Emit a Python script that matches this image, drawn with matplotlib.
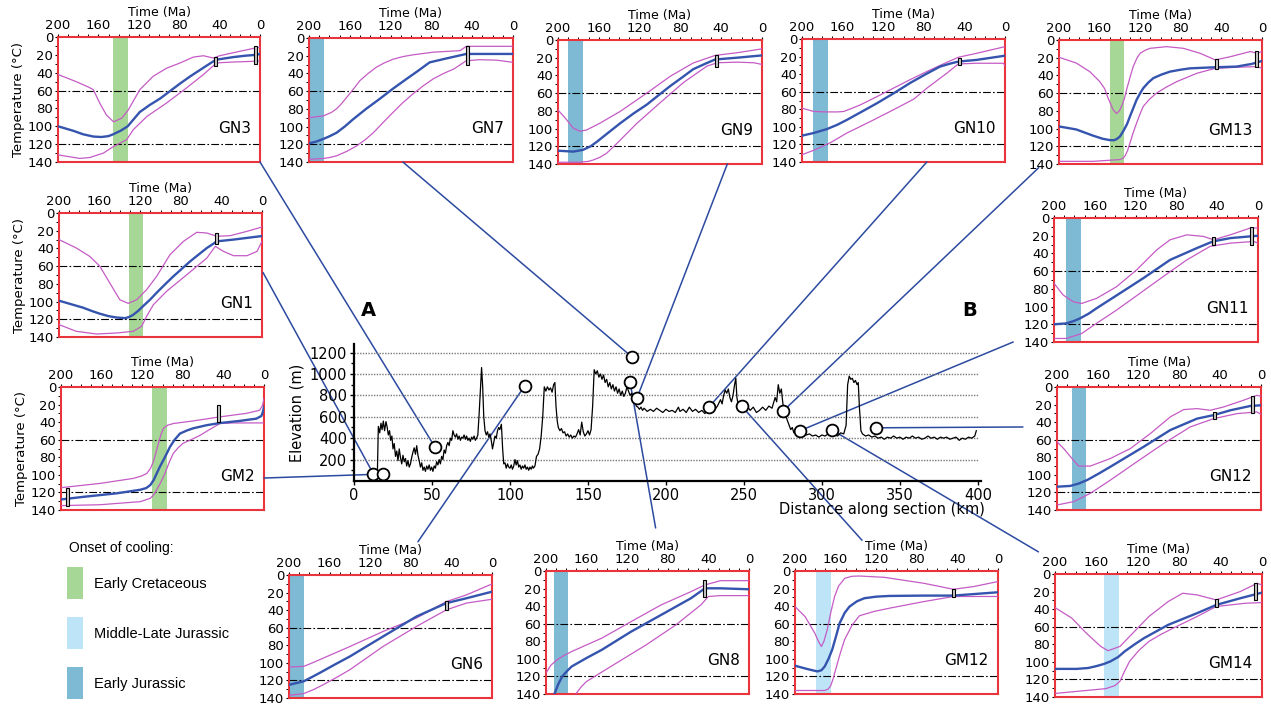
import matplotlib
matplotlib.use('Agg')
import matplotlib.pyplot as plt
from matplotlib.patches import Rectangle, ConnectionPatch

W, H = 1271, 704
fig = plt.figure(figsize=(W / 100, H / 100), dpi=100)

BLUE = '#3454AE'
MAG = '#C55BC5'
RED = '#E8343A'
LINK = '#2C4AA0'
GREEN = '#A6D796'
LIGHTB = '#BEE5F7'
DARKB = '#7FBAD5'

# ---------------- elevation profile: (km, m) ----------------
profile = [
    (12.5, 40), (14, 60), (15, 80), (15.6, 510), (16.5, 450), (17.3, 540), (18, 480), (18.8, 560), (19.6, 470),
    (20.5, 555), (21.3, 500), (22, 430), (22.8, 470), (23.5, 380), (24.3, 420), (25, 300), (25.8, 350),
    (26.6, 230), (27.4, 280), (28.2, 190), (29, 300), (29.8, 220), (30.6, 160), (31.4, 240), (32.2, 180),
    (33, 210), (33.8, 140), (34.6, 190), (35.4, 130), (36.2, 160), (37, 220), (37.8, 270), (38.6, 310),
    (39.4, 250), (40.2, 330), (41, 240), (41.8, 190), (42.6, 130), (43.4, 170), (44.2, 100), (45, 130),
    (45.8, 90), (46.6, 140), (47.4, 110), (48.2, 150), (49, 100), (49.8, 130), (50.6, 90), (51.4, 140),
    (52.2, 120), (53, 180), (53.8, 150), (54.6, 200), (55.4, 160), (56.2, 230), (57, 200), (57.8, 290),
    (58.6, 260), (59.4, 330), (60.2, 360), (61, 330), (61.8, 400), (62.6, 380), (63.4, 470), (64.2, 430),
    (65, 410), (65.8, 440), (66.6, 390), (67.4, 420), (68.2, 380), (69, 410), (69.8, 400), (70.6, 430),
    (71.4, 390), (72.2, 420), (73, 380), (73.8, 400), (74.6, 370), (75.4, 410), (76.2, 390), (77, 420),
    (77.8, 380), (78.6, 400), (79.4, 430), (80.2, 620), (81, 850), (81.8, 1060), (82.5, 880), (83.2, 600),
    (84, 470), (84.8, 430), (85.6, 460), (86.4, 410), (87.2, 440), (88, 380), (88.8, 300), (89.6, 360),
    (90.4, 420), (91.2, 400), (92, 470), (92.8, 500), (93.5, 480), (94.5, 530), (95.3, 300), (96, 160),
    (96.8, 170), (97.6, 120), (98.4, 160), (99.2, 130), (100, 120), (100.8, 150), (101.6, 110), (102.4, 140),
    (103.2, 200), (104, 150), (104.8, 190), (105.6, 130), (106.4, 150), (107.2, 110), (108, 140), (108.8, 120),
    (109.6, 150), (110.4, 110), (111.2, 130), (112, 100), (112.8, 130), (113.6, 110), (114.4, 140), (115, 120),
    (116, 140), (117, 230), (118, 250), (119, 300), (120, 420), (121, 600), (122, 880), (123, 840), (124, 880),
    (125, 850), (126, 870), (127, 830), (128, 900), (128.8, 920), (129.5, 700), (130.3, 560), (131, 500),
    (132, 470), (133, 490), (134, 450), (135, 460), (136, 420), (137, 440), (138, 410), (139, 430), (140, 400),
    (141, 420), (142, 410), (143, 440), (144, 480), (145, 430), (146, 550), (147, 460), (148, 420), (149, 440),
    (150, 470), (151, 430), (152, 480), (153, 700), (154, 1040), (155, 1000), (156, 1030), (157, 970),
    (158, 1000), (159, 950), (160, 990), (161, 920), (162, 950), (163, 880), (164, 920), (165, 860), (166, 900),
    (167, 840), (168, 880), (169, 820), (170, 860), (171, 800), (172, 840), (173, 790), (174, 820), (175, 880),
    (176, 840), (177, 800), (178, 820), (179, 760), (180, 740), (181, 700), (182, 690), (183, 670), (184, 690),
    (185, 660), (186, 680), (188, 650), (190, 670), (192, 650), (194, 680), (196, 660), (198, 640), (200, 670),
    (202, 650), (204, 660), (206, 640), (208, 690), (209, 650), (211, 670), (213, 640), (215, 690), (217, 650),
    (219, 670), (221, 640), (223, 660), (225, 630), (227, 670), (229, 690), (231, 660), (233, 700), (235, 760),
    (236, 720), (237, 800), (238, 850), (239, 820), (240, 860), (241, 780), (242, 740), (243, 800), (244, 900),
    (244.8, 960), (245.5, 780), (246.5, 700), (248, 720), (250, 680), (252, 700), (254, 660), (256, 690),
    (258, 640), (260, 660), (262, 690), (264, 660), (266, 700), (268, 680), (269, 730), (270, 780), (271, 740),
    (272, 900), (273, 820), (274, 860), (275, 720), (276, 650), (277, 600), (278, 560), (279, 520), (280, 480),
    (281, 500), (282, 450), (284, 470), (286, 440), (288, 450), (290, 430), (292, 440), (294, 420), (296, 430),
    (298, 410), (300, 430), (302, 420), (304, 440), (306, 430), (308, 440), (310, 420), (312, 450), (314, 440),
    (315.5, 520), (316.5, 900), (317.5, 980), (318.5, 950), (319.5, 960), (320.5, 920), (321.5, 940),
    (322.5, 900), (323.3, 920), (324, 700), (325, 470), (326, 440), (328, 420), (330, 430), (332, 410),
    (334, 420), (336, 400), (338, 410), (340, 390), (342, 410), (344, 400), (346, 420), (348, 400), (350, 410),
    (352, 390), (354, 410), (356, 400), (358, 420), (360, 400), (362, 410), (364, 390), (366, 400), (368, 420),
    (370, 400), (372, 410), (374, 390), (376, 410), (378, 400), (380, 410), (382, 390), (384, 400), (386, 410),
    (388, 380), (390, 400), (392, 390), (394, 410), (396, 400), (398, 420), (399, 470)]
prof_km = [p[0] for p in profile]
prof_m = [p[1] for p in profile]

sample_km = [12.5, 18.8, 52, 109.5, 178.3, 177, 181.5, 227.5, 248.5, 275.3, 285.8, 306.3, 334.8]
sample_m = [65, 65, 315, 890, 1158, 925, 778, 690, 700, 656, 469, 478, 497]
sample_panel = ['GN1', 'GM2', 'GN3', 'GN6', 'GN7', 'GN8', 'GN9', 'GN10', 'GM12', 'GM13', 'GN11', 'GM14', 'GN12']

# ---------------- thermal histories: (time Ma, temperature C) ----------------
GN3_best = [(200, 100), (185, 105), (175, 109), (165, 111.5), (157, 112), (150, 111), (145.5, 109), (138, 105),
            (131, 100), (125, 92), (119, 84), (109, 76), (99, 69), (89, 60.5), (79, 52), (69, 44), (59.5, 37),
            (50, 30), (43.6, 25.5), (35, 24), (26.4, 22.5), (15, 21), (4, 20), (0, 19)]
GN3_upper = [(200, 42), (182, 50), (170, 56), (165, 59), (158.7, 74), (152, 87.5), (145, 95), (137, 91),
             (130.6, 82), (119, 59), (105.8, 44), (92.6, 35), (79, 29), (66, 22.5), (56, 21), (46, 23.6),
             (40, 21), (20, 16), (5, 12.4), (0, 11.6)]
GN3_lower = [(200, 132), (178.5, 136), (168.6, 135), (155, 130), (145.5, 123), (132, 115), (125.6, 104),
             (112, 89), (92.6, 74), (72.7, 57), (56, 42), (43, 29), (26.4, 28), (0, 27)]
GN3_boxes = [(43.6, 22, 32), (4, 10, 30)]

GN7_best = [(200, 119), (193, 117), (186, 114), (180, 111), (173, 107), (165, 100), (157, 92), (144, 80),
            (131, 69), (118, 57.5), (104.6, 46.4), (93, 37), (81.7, 27.5), (65, 23), (45.8, 18), (0, 18)]
GN7_upper = [(200, 90), (186, 88), (178, 84), (173, 80), (168, 74), (163, 67), (156, 57), (150, 48), (142, 40),
             (134, 33), (126, 28), (117.6, 24), (108, 21), (98, 19), (78, 16), (52, 14.3), (45.8, 9.4),
             (33, 9.4), (0, 9.4)]
GN7_lower = [(200, 137), (186, 136), (180, 135), (173, 133), (163, 128), (153.6, 122), (145, 115), (137, 107),
             (127, 95), (117.6, 84), (108, 73), (98, 63), (88, 54), (78, 46), (68, 40), (58, 35), (45.8, 25.7),
             (33, 24.5), (16, 25), (0, 27.5)]
GN7_boxes = [(45, 9, 30)]

GN9_best = [(200, 125), (185, 126), (175.4, 124), (168, 120), (162, 115), (150, 104), (139, 94), (126, 83),
            (113, 73), (101, 62), (90, 52), (78, 42), (67.5, 33), (56, 27), (46, 22), (24.6, 20), (0, 17.4)]
GN9_upper = [(200, 79), (193, 88), (185, 99.5), (178.7, 103), (172, 101.6), (159, 94), (139, 80.6),
             (113, 60), (90, 41), (67.5, 26), (46, 17.4), (24.6, 14.4), (0, 10)]
GN9_lower = [(200, 138), (178.7, 138), (170, 137), (165.6, 135.5), (159, 132.5), (152.5, 128), (146, 121),
             (139, 113), (122.6, 94), (100, 71), (77, 48), (54, 29.5), (44, 25.7), (24.6, 25), (8, 25.7),
             (0, 27.6)]
GN9_boxes = [(45, 17, 30)]

GN10_best = [(200, 110), (188.5, 107), (175.4, 102.5), (165, 97.5), (155.7, 92), (140, 82), (126, 73),
             (110, 62), (93.4, 50), (78, 40), (64, 31.4), (54, 28), (46, 25.7), (28, 23.8), (0, 19)]
GN10_upper = [(200, 78.7), (188.5, 82.5), (175.4, 83), (165, 83), (159, 82.5), (151, 79), (142.6, 75),
              (126, 65.5), (110, 56), (93, 46), (77, 37), (62, 29), (46, 20.8), (28, 16.3), (0, 8.7)]
GN10_lower = [(200, 131.7), (187, 126), (172, 118), (155.7, 107), (132.8, 94), (110, 80.6), (90, 68.5),
              (77, 56), (57.4, 39), (46, 28.4), (28, 27.6), (1.6, 27.6), (0, 30.6)]
GN10_boxes = [(45, 22, 30)]

GM13_best = [(200, 97.6), (183, 101), (166.4, 108), (157, 111.5), (150, 113), (146, 113.2), (143.3, 112),
             (140, 109), (136.7, 103), (133, 95), (130, 86), (126.5, 76), (123.6, 67.6), (120, 60), (117, 54.4),
             (112, 48), (107, 43), (99, 39), (90.6, 35.7), (80, 33.5), (71, 32), (51, 31), (25, 30), (10, 27),
             (0, 23.6)]
GM13_upper = [(200, 19.5), (183, 26), (169.7, 35.7), (159.8, 47), (155, 55), (151.6, 65.7), (146.6, 79),
              (143.3, 83), (140.5, 80), (138.4, 75), (135.5, 66), (133.4, 56), (130, 42), (126.9, 30),
              (123, 20), (120, 15), (115, 11.5), (110.4, 9.4), (94, 7.5), (77.4, 9.4), (61, 15), (46, 22.5),
              (31, 18.8), (11.5, 13), (5, 15), (0, 13)]
GM13_lower = [(200, 137), (166.4, 137), (140, 135), (137, 133.5), (135, 131), (132.5, 125), (130, 116),
              (127, 105), (123.6, 94), (120, 83), (117, 75), (111, 67), (104, 60), (94, 53), (84, 47),
              (64, 37.5), (46, 32), (25, 30.8), (5, 30), (0, 32)]
GM13_boxes = [(45, 22, 33), (5, 12, 30)]

GN1_best = [(200, 99), (188, 103), (176, 107), (168, 110.5), (159.8, 113.7), (151, 116.5), (143.3, 118),
            (135, 118.7), (131, 117.5), (127, 115), (122, 110.5), (117, 105), (110, 97.5), (103.8, 90),
            (95, 80), (87.3, 71.5), (79, 63), (70.8, 54.6), (62, 46.5), (54.3, 39.5), (49, 35.5), (44.5, 32),
            (28, 30), (0, 26)]
GN1_upper = [(200, 30), (183, 39.5), (169.7, 49), (159.8, 60), (150, 79), (140, 98), (131.8, 102),
             (123.6, 98), (113.7, 86.6), (103.8, 71.5), (90.6, 47), (77.4, 32), (64.3, 21.8), (54.3, 22.6),
             (44.5, 26.3), (31.3, 25.6), (14.8, 20.7), (0, 15.8)]
GN1_lower = [(200, 126), (183, 133.6), (163, 136.6), (143.3, 135.5), (127, 133.6), (118.6, 128),
             (113.7, 116.7), (107, 103.5), (94, 88.4), (74, 69.6), (54.3, 50.8), (46, 37.6), (38, 43.3),
             (28, 48.2), (14.8, 48.2), (4.9, 43.3), (0, 32)]
GN1_boxes = [(45, 23, 35)]

GM2_best = [(200, 128), (177.7, 125), (145, 121), (122, 117), (116, 115), (112, 111.6), (108.5, 105.5),
            (105.7, 98.4), (102.5, 90.5), (99, 83), (95.5, 75), (92.6, 68), (88, 60), (82.8, 53), (76, 49.5),
            (69.7, 47), (56.6, 43.5), (43.5, 41), (23.9, 38.6), (7.5, 36), (2.6, 33), (1, 28), (0, 22.7)]
GM2_upper = [(200, 114.6), (161.4, 109.7), (128.6, 104), (120, 101), (115.5, 98.4), (112, 93), (109, 85),
             (106.5, 75), (104, 64), (101.5, 54), (99, 47), (95, 43.5), (89.4, 41.6), (69.7, 38.6), (43.5, 34),
             (17.3, 30), (4.3, 26.5), (1.5, 21), (0, 13.2)]
GM2_lower = [(200, 135), (161.4, 134), (122, 130.5), (112, 126.7), (108.5, 122.5), (105.7, 117),
             (101.5, 108), (97.6, 98.4), (93.5, 86), (89.4, 75.7), (84.5, 69), (79.6, 64), (71, 59.5), (63, 55),
             (53, 48), (43.5, 41.6), (30.4, 40.9), (0, 40.9)]
GM2_boxes = [(45, 20, 40), (194, 115, 136)]

GN11_best = [(200, 120), (188, 119), (181, 116.5), (174.8, 113.5), (166, 108), (158.4, 102), (135.4, 85),
             (112.5, 68), (86.2, 47.3), (60, 34), (44.3, 26.5), (27.2, 22.7), (0, 20)]
GN11_upper = [(200, 73.8), (191, 87), (181, 94.6), (173, 96.5), (158.4, 90.8), (138.7, 77.6), (119, 58.6),
              (99.3, 36), (86.2, 24.6), (69.8, 19), (53.4, 20.8), (43.6, 24.6), (27.2, 19), (7.5, 11.3),
              (0, 11.3)]
GN11_lower = [(200, 136), (188, 136), (173, 130.5), (158.4, 119), (138.7, 104), (115.7, 85), (92.8, 66),
              (69.8, 47.3), (46.9, 32), (27.2, 28.4), (4.3, 26.5), (0, 28.4)]
GN11_boxes = [(44, 22, 31), (6, 10, 30)]

GN12_best = [(200, 113.5), (187, 112.6), (179, 110), (170.6, 106), (159, 98.5), (147.7, 90.8), (115, 68),
             (88.9, 49), (62.7, 36), (46.4, 32), (30, 26.5), (10.5, 21.6), (0, 20.8)]
GN12_upper = [(200, 62.4), (193.5, 70), (185.3, 81.4), (178.8, 90), (167.3, 90), (147.7, 81.4), (128, 70),
              (108.5, 53), (88.9, 34), (75.8, 25.7), (62.7, 24.6), (49.7, 26.5), (36.6, 22.7), (17, 15),
              (4, 9.5), (0, 10.6)]
GN12_lower = [(200, 134.3), (183.7, 130.5), (167.3, 121), (147.7, 106), (121.6, 85), (95.4, 64.3),
              (69.3, 45.4), (46.4, 36), (23.5, 30.3), (4, 28.4), (0, 31)]
GN12_boxes = [(46, 28, 36), (8, 10, 30)]

GN6_best = [(200, 125), (185.5, 121), (178, 116.5), (170, 111.6), (155, 102), (140, 92.7), (107.4, 70),
            (74.5, 47.3), (45, 32), (25.3, 26.5), (0, 19)]
GN6_upper = [(200, 104.8), (185.5, 104), (178, 100.5), (170, 96.5), (140, 81.4), (107.4, 64.3), (74.5, 49),
             (45, 30.3), (25.3, 22.7), (0, 10.2)]
GN6_lower = [(200, 137), (185.5, 135), (176, 130.5), (166.5, 125), (153, 116.5), (140, 107.8),
             (107.4, 81.4), (74.5, 58.6), (45, 39.7), (25.3, 32), (0, 27.6)]
GN6_boxes = [(45, 30, 40)]

GN8_best = [(191.7, 140), (188, 129), (184, 120), (179, 113.5), (174.6, 108.6), (160, 99), (145, 89.7),
            (116, 68.9), (86.6, 50), (57.2, 31), (48, 23.5), (43.5, 19.7), (28, 19.7), (0, 20.8)]
GN8_upper = [(200, 116), (195, 107), (189, 101), (182, 96), (174.6, 91.6), (145, 76.4), (116, 57.5),
             (86.6, 38.6), (57.2, 23.5), (43.5, 15.9), (28, 11), (0, 11)]
GN8_lower = [(170.7, 140), (165, 131.5), (160, 125.7), (145, 115), (130.6, 104.8), (101.2, 84), (72, 61.3),
             (47.4, 38.6), (40, 29), (28, 28), (0, 28)]
GN8_boxes = [(44, 10, 30)]

GM12_best = [(200, 107.8), (187.8, 111.6), (178, 114.3), (174, 113), (170.7, 108.6), (167, 100), (163.4, 89.7),
             (159.5, 74), (156, 59.4), (151, 47.5), (146.3, 40.5), (139, 34.5), (131.7, 31), (120, 29.2),
             (107.3, 28.4), (73, 28), (43.9, 28), (0, 24.2)]
GM12_upper = [(200, 40.5), (190, 52), (180.5, 70.8), (176.5, 81), (174, 85.9), (171.5, 80), (168.3, 67),
              (164.5, 46), (161, 29), (157, 17), (151, 8.3), (144, 6), (136.6, 5.7), (112, 7.2), (73, 14),
              (43.9, 20.8), (24.4, 17.8), (0, 12)]
GM12_lower = [(200, 136), (170.7, 136), (167.5, 134.5), (165, 131), (162.5, 123), (160, 112.4), (155.5, 94),
              (151.2, 78.3), (144, 62), (136.6, 51), (122, 46), (107.3, 42.4), (73, 34.8), (43.9, 29),
              (19.5, 29), (0, 29)]
GM12_boxes = [(44, 20, 30)]

GM14_best = [(200, 108), (179, 108), (168, 107), (160.5, 105), (153, 102.5), (146.5, 99.5), (139, 94.5),
             (132.6, 88), (123, 80), (114, 73), (90.7, 57.9), (62.8, 44.6), (44.2, 35.2), (21, 27.6),
             (0, 21.2)]
GM14_upper = [(200, 38.2), (183.7, 50.3), (169.8, 67.3), (155.8, 82.4), (148.8, 87.3), (137.2, 82.4),
              (123.3, 65.5), (109.3, 48.4), (90.7, 31.4), (76.7, 21.9), (62.8, 23.8), (44.2, 29.5),
              (21, 20), (4.7, 10.6), (0, 12.5)]
GM14_lower = [(200, 136), (179, 133.6), (151, 130.5), (142, 127), (137.2, 122), (132.5, 110), (128, 99.5),
              (119, 87), (109.3, 76.8), (98, 69), (86, 61.7), (62.8, 48.4), (44.2, 37), (16.3, 33.3),
              (0, 32.5)]
GM14_boxes = [(44, 28, 37), (6, 10, 30)]

# onset-of-cooling bands (Ma)
band_GN3, band_GN7, band_GN9, band_GN10, band_GM13 = (145.5, 131), (200, 185.3), (190.2, 175.4), (189.5, 174.4), (149.9, 135.7)
band_GN1, band_GM2, band_GN11, band_GN12 = (131, 117), (110, 96), (188.5, 174), (185.3, 171.6)
band_GN6, band_GN8, band_GM12, band_GM14 = (200, 185.5), (191.7, 178), (179.5, 165), (152.6, 138.6)

onset_labels = ['Early Cretaceous', 'Middle-Late Jurassic', 'Early Jurassic']
onset_colors = [GREEN, LIGHTB, DARKB]

# panel layout: name, pixel box (left, top, right, bottom), link anchor (axes fraction), temperature label
panels = [
    ('GN3', (58, 37, 260, 162), (1.0, 0.0), True, GN3_best, GN3_upper, GN3_lower, GN3_boxes, band_GN3, GREEN),
    ('GN7', (309, 38, 513, 162), (0.46, 0.0), False, GN7_best, GN7_upper, GN7_lower, GN7_boxes, band_GN7, DARKB),
    ('GN9', (558, 40, 762, 164), (0.83, 0.0), False, GN9_best, GN9_upper, GN9_lower, GN9_boxes, band_GN9, DARKB),
    ('GN10', (802, 39, 1005, 162), (0.615, 0.0), False, GN10_best, GN10_upper, GN10_lower, GN10_boxes, band_GN10, DARKB),
    ('GM13', (1059, 40, 1262, 164), (-0.10, -0.03), False, GM13_best, GM13_upper, GM13_lower, GM13_boxes, band_GM13, GREEN),
    ('GN1', (59, 213, 262, 337), (1.005, 0.52), True, GN1_best, GN1_upper, GN1_lower, GN1_boxes, band_GN1, GREEN),
    ('GM2', (61, 387, 264, 510), (1.0, 0.26), True, GM2_best, GM2_upper, GM2_lower, GM2_boxes, band_GM2, GREEN),
    ('GN11', (1054, 218, 1258, 342), (-0.2, 0.0), False, GN11_best, GN11_upper, GN11_lower, GN11_boxes, band_GN11, DARKB),
    ('GN12', (1057, 387, 1261, 510), (-0.167, 0.675), False, GN12_best, GN12_upper, GN12_lower, GN12_boxes, band_GN12, DARKB),
    ('GN6', (289, 575, 492, 698), (0.635, 1.27), False, GN6_best, GN6_upper, GN6_lower, GN6_boxes, band_GN6, DARKB),
    ('GN8', (546, 571, 749, 694), (0.54, 1.35), False, GN8_best, GN8_upper, GN8_lower, GN8_boxes, band_GN8, DARKB),
    ('GM12', (795, 571, 998, 694), (0.33, 1.25), False, GM12_best, GM12_upper, GM12_lower, GM12_boxes, band_GM12, LIGHTB),
    ('GM14', (1055, 574, 1262, 697), (-0.08, 1.18), False, GM14_best, GM14_upper, GM14_lower, GM14_boxes, band_GM14, LIGHTB),
]


def px_axes(l, t, r, b):
    return fig.add_axes([l / W, 1 - b / H, (r - l) / W, (b - t) / H])


def draw_panel(ax, name, ylab, best, upper, lower, boxes, band, bcol):
    ax.set_xlim(200, 0)
    ax.set_ylim(140, 0)
    ax.axvspan(band[0], band[1], color=bcol, lw=0, zorder=1)
    for yv in (60, 120):
        ax.axhline(yv, color='black', lw=0.8, ls=(0, (7, 2, 1.5, 2)), zorder=2)
    for series, col, lw in ((upper, MAG, 0.9), (lower, MAG, 0.9), (best, BLUE, 1.7)):
        ax.plot([p[0] for p in series], [p[1] for p in series], color=col, lw=lw, zorder=3,
                solid_joinstyle='round')
    for tb, tlo, thi in boxes:
        ax.add_patch(Rectangle((tb - 1.5, tlo), 3, thi - tlo, facecolor='#c8c8c8', edgecolor='black',
                               lw=0.8, zorder=4))
    ax.xaxis.tick_top()
    ax.xaxis.set_label_position('top')
    ax.set_xticks([200, 160, 120, 80, 40, 0])
    ax.set_xticks(range(0, 201, 10), minor=True)
    ax.set_yticks(range(0, 141, 20))
    ax.set_yticks(range(0, 141, 10), minor=True)
    ax.tick_params(which='major', direction='out', length=2.5, width=0.8, labelsize=9.5, pad=1)
    ax.tick_params(which='minor', direction='out', length=2, width=0.7)
    ax.set_xlabel('Time (Ma)', fontsize=9, labelpad=2)
    if ylab:
        ax.set_ylabel('Temperature (°C)', fontsize=9.5, labelpad=2)
    for s in ax.spines.values():
        s.set_color(RED)
        s.set_linewidth(1.5)
    ax.text(0.955, 0.27, name, transform=ax.transAxes, ha='right', va='center', fontsize=11, zorder=5)


panel_axes = {}
for name, box, anchor, ylab, best, upper, lower, boxes, band, bcol in panels:
    ax = px_axes(*box)
    draw_panel(ax, name, ylab, best, upper, lower, boxes, band, bcol)
    panel_axes[name] = (ax, anchor)

# ---------------- central profile ----------------
axp = px_axes(354, 344, 981, 481)
axp.set_zorder(5)
axp.patch.set_alpha(0)
axp.set_xlim(0, 402)
axp.set_ylim(0, 1280)
axp.plot(prof_km, prof_m, color='black', lw=0.9, zorder=3)
axp.set_yticks([200, 400, 600, 800, 1000, 1200])
axp.set_yticks(range(100, 1300, 100), minor=True)
axp.set_xticks(range(0, 401, 50))
for yv in [200, 400, 600, 800, 1000, 1200]:
    axp.plot([0, 400], [yv, yv], color='#777777', lw=1.0, ls=(0, (1, 1)), zorder=1)
for s in ('top', 'right'):
    axp.spines[s].set_visible(False)
for s in ('left', 'bottom'):
    axp.spines[s].set_linewidth(1.6)
axp.tick_params(which='both', direction='out', length=3, width=1, labelsize=10.5, pad=2)
axp.tick_params(which='minor', length=2)
axp.set_ylabel('Elevation (m)', fontsize=10.5, labelpad=4)
axp.text(1.006, -0.205, 'Distance along section (km)', transform=axp.transAxes, ha='right', va='center',
         fontsize=10.5)
axp.plot(sample_km, sample_m, 'o', ms=8.5, mfc='white', mec='black', mew=1.3, zorder=6, clip_on=False)

for km, m, pname in zip(sample_km, sample_m, sample_panel):
    pax, anchor = panel_axes[pname]
    con = ConnectionPatch(xyA=(km, m), coordsA='data', axesA=axp,
                          xyB=anchor, coordsB='axes fraction', axesB=pax,
                          color=LINK, lw=1.1, zorder=2)
    con.set_clip_on(False)
    fig.add_artist(con)

fig.text(368 / W, 1 - 310 / H, 'A', fontsize=14, fontweight='bold', ha='center', va='center')
fig.text(970 / W, 1 - 310 / H, 'B', fontsize=14, fontweight='bold', ha='center', va='center')

# ---------------- legend ----------------
axl = px_axes(55, 535, 280, 702)
axl.set_xlim(55, 280)
axl.set_ylim(702, 535)
axl.axis('off')
axl.text(69, 548, 'Onset of cooling:', fontsize=10, va='center', ha='left', family='Liberation Sans')
for i, (lab, col) in enumerate(zip(onset_labels, onset_colors)):
    y0 = 567 + i * 50
    axl.add_patch(Rectangle((67, y0), 16, 32, facecolor=col, edgecolor='none'))
    axl.text(94, y0 + 17, lab, fontsize=10.5, va='center', ha='left', family='Liberation Sans')

fig.savefig('out.png', dpi=100)
